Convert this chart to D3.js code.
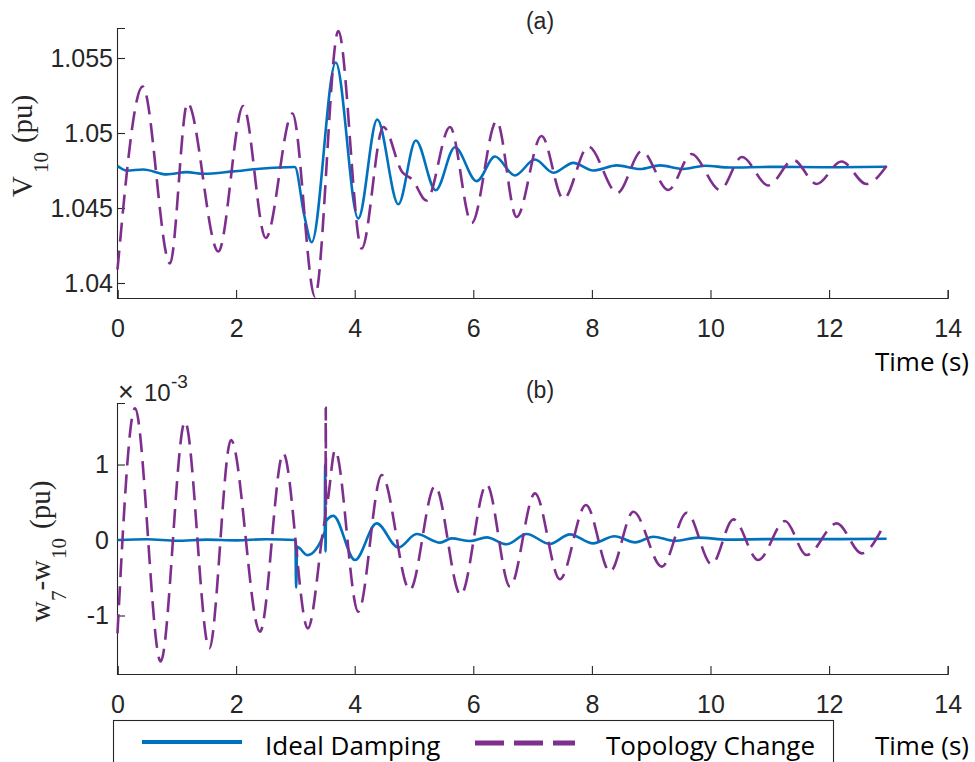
<!DOCTYPE html>
<html>
<head>
<meta charset="utf-8">
<script src="https://cdn.jsdelivr.net/npm/d3@7"></script>
<style>
  html, body { margin: 0; padding: 0; background: #fff; }
  svg { display: block; }
</style>
</head>
<body>
<svg id="chart" width="975" height="762"></svg>
<script>
// ---- data -------------------------------------------------------------
const timeTicks = [0, 2, 4, 6, 8, 10, 12, 14];
const voltTicks = [1.04, 1.045, 1.05, 1.055];
const voltTickLabels = ["1.04", "1.045", "1.05", "1.055"];
const speedTicks = [-1, 0, 1];
const speedTickLabels = ["-1", "0", "1"];
const seriesNames = ["Ideal Damping", "Topology Change"];

// (a) bus-10 voltage, pu  [time s, value]
const v10Ideal = [
  [0, 1.0478], [0.155, 1.0475], [0.435, 1.04757], [0.83, 1.04724], [1.167, 1.04739],
  [1.447, 1.04728], [1.953, 1.04744], [2.40, 1.04762], [2.99, 1.04773], [3.15, 1.0445],
  [3.275, 1.04272], [3.68, 1.0547], [4.06, 1.0443], [4.38, 1.0509], [4.736, 1.04525],
  [5.03, 1.0495], [5.366, 1.04618], [5.69, 1.04905], [6.057, 1.04679], [6.366, 1.04843],
  [6.70, 1.04717], [7.04, 1.04823], [7.35, 1.04735], [7.686, 1.04801], [8.02, 1.0475],
  [8.42, 1.04784], [8.81, 1.0476], [9.15, 1.04784], [9.54, 1.0476], [9.91, 1.04782],
  [10.33, 1.0477], [11.0, 1.04774], [12.0, 1.04772], [12.97, 1.04775]
];
const v10Topology = [
  [0, 1.0409], [0.425, 1.0531], [0.885, 1.0413], [1.18, 1.0520], [1.70, 1.0421],
  [2.12, 1.0518], [2.50, 1.0430], [2.95, 1.0513], [3.33, 1.0391], [3.724, 1.0568],
  [4.118, 1.0423], [4.483, 1.0504], [4.80, 1.0474], [4.97, 1.0469], [5.21, 1.0455],
  [5.607, 1.0504], [5.973, 1.0440], [6.394, 1.0508], [6.73, 1.0444], [7.15, 1.0498],
  [7.52, 1.0456], [7.94, 1.0491], [8.43, 1.0460], [8.84, 1.0488], [9.29, 1.0462],
  [9.68, 1.0486], [10.16, 1.0462], [10.53, 1.0484], [10.975, 1.0465], [11.40, 1.0482],
  [11.79, 1.0466], [12.21, 1.0481], [12.63, 1.0466], [12.97, 1.0478]
];

// (b) speed difference w7 - w10, in units of 1e-3 pu  [time s, value]
const wIdeal = [
  [0, 0], [0.5, 0.01], [1.0, -0.01], [1.5, 0.005], [2.0, -0.005], [2.5, 0.01],
  [3.0, 0], [3.012, -0.63], [3.03, -0.09], [3.2, -0.2], [3.495, 0.11], [3.502, 1.0],
  [3.508, -0.15], [3.515, 0.25], [3.64, 0.32], [4.005, -0.265], [4.37, 0.22],
  [4.735, -0.10], [5.045, 0.079], [5.44, -0.035], [5.635, 0.022], [5.944, -0.013],
  [6.226, 0.035], [6.56, -0.057], [6.90, 0.079], [7.29, -0.053], [7.63, 0.075],
  [8.02, -0.044], [8.38, 0.05], [8.73, -0.031], [9.035, 0.044], [9.40, -0.013],
  [9.79, 0.031], [10.3, 0.005], [11.0, 0.012], [12.0, 0.012], [12.97, 0.017]
];
const wTopology = [
  [0, -1.236], [0.295, 1.744], [0.728, -1.61], [1.138, 1.567], [1.548, -1.435],
  [1.914, 1.325], [2.403, -1.214], [2.796, 1.148], [3.21, -1.17], [3.47, 0.15],
  [3.508, 0.35], [3.512, 1.75], [3.516, 0.45], [3.668, 1.19], [4.06, -0.95],
  [4.455, 0.861], [4.93, -0.662], [5.354, 0.715], [5.787, -0.728], [6.225, 0.737],
  [6.62, -0.618], [7.04, 0.618], [7.46, -0.52], [7.90, 0.464], [8.305, -0.42],
  [8.70, 0.375], [9.18, -0.353], [9.60, 0.362], [10.02, -0.322], [10.385, 0.274],
  [10.806, -0.265], [11.257, 0.252], [11.62, -0.199], [12.13, 0.221], [12.55, -0.177],
  [12.91, 0.177]
];

// ---- styling ----------------------------------------------------------
const axisColor = "#262626";
const blue = "#0072BD";
const purple = "#7E2F8E";
const tickFont = "'Liberation Sans', Arial, sans-serif";
const serif = "'Liberation Serif', 'Times New Roman', serif";
const uiFont = "'Open Sans', 'Noto Sans', sans-serif";

const svg = d3.select("#chart");

const x = d3.scaleLinear().domain([0, 14]).range([117.5, 947.7]);

function drawPanel(cfg) {
  const y = d3.scaleLinear().domain(cfg.yDomain).range([cfg.bottom, cfg.top]);
  const g = svg.append("g");

  const line = d3.line()
    .x(d => x(d[0]))
    .y(d => y(d[1]))
    .curve(d3.curveMonotoneX);

  // x axis, ticks pointing inward
  const xa = g.append("g")
    .attr("transform", `translate(0,${cfg.bottom})`)
    .call(d3.axisBottom(x).tickValues(timeTicks).tickSize(-8).tickPadding(21)
      .tickFormat(d3.format("d")));
  // y axis, ticks pointing inward
  const ya = g.append("g")
    .attr("transform", `translate(${x(0) - 0.5},0)`)
    .call(d3.axisLeft(y).tickValues(cfg.yTicks).tickSize(-8).tickPadding(cfg.yPad)
      .tickFormat((d, i) => cfg.yLabels[i]));

  [xa, ya].forEach(a => {
    a.attr("font-family", null).attr("font-size", null);
    a.select(".domain").attr("stroke", axisColor).attr("stroke-width", 1.1);
    a.selectAll(".tick line").attr("stroke", axisColor).attr("stroke-width", 1.1);
    a.selectAll(".tick text")
      .attr("fill", axisColor)
      .style("font-family", tickFont)
      .style("font-size", "25px");
  });

  g.append("path")
    .datum(cfg.ideal)
    .attr("fill", "none")
    .attr("stroke", blue)
    .attr("stroke-width", 2.6)
    .attr("stroke-linejoin", "round")
    .attr("d", line);

  g.append("path")
    .datum(cfg.topology)
    .attr("fill", "none")
    .attr("stroke", purple)
    .attr("stroke-width", 2.6)
    .attr("stroke-dasharray", "19,9")
    .attr("d", line);

  // panel tag
  g.append("text")
    .attr("x", 540).attr("y", cfg.tagY)
    .attr("text-anchor", "middle")
    .attr("fill", axisColor)
    .style("font-family", tickFont)
    .style("font-size", "23px")
    .text(cfg.tag);

  // x axis title
  g.append("text")
    .attr("x", 969).attr("y", cfg.timeY)
    .attr("text-anchor", "end")
    .attr("fill", "#000")
    .style("font-family", uiFont)
    .style("font-size", "26px")
    .text("Time (s)");

  return { g, y };
}

// (a) voltage
drawPanel({
  yDomain: [1.039, 1.057], top: 28, bottom: 298,
  yTicks: voltTicks, yLabels: voltTickLabels, yPad: 4,
  ideal: v10Ideal, topology: v10Topology,
  tag: "(a)", tagY: 29, timeY: 371
});

// (b) speed difference
drawPanel({
  yDomain: [-1.775, 1.815], top: 403, bottom: 674,
  yTicks: speedTicks, yLabels: speedTickLabels, yPad: 8,
  ideal: wIdeal, topology: wTopology,
  tag: "(b)", tagY: 398, timeY: 755
});

// y axis titles (serif, with subscripts)
const yTitleA = svg.append("text")
  .attr("transform", "translate(32,197) rotate(-90)")
  .attr("fill", axisColor)
  .style("font-family", serif)
  .style("font-size", "29px");
yTitleA.append("tspan").text("V");
yTitleA.append("tspan").attr("dx", 3).attr("dy", 16).style("font-size", "21px").text("10");
yTitleA.append("tspan").attr("dx", 9).attr("dy", -16).text("(pu)");

const yTitleB = svg.append("text")
  .attr("transform", "translate(50,622) rotate(-90)")
  .attr("fill", axisColor)
  .style("font-family", serif)
  .style("font-size", "29px");
yTitleB.append("tspan").text("w");
yTitleB.append("tspan").attr("dx", 0).attr("dy", 16).style("font-size", "21px").text("7");
yTitleB.append("tspan").attr("dx", 0).attr("dy", -16).text("-w");
yTitleB.append("tspan").attr("dx", 1).attr("dy", 16).style("font-size", "21px").text("10");
yTitleB.append("tspan").attr("dx", 9).attr("dy", -16).text("(pu)");

// exponent marker above panel (b)
const expo = svg.append("text")
  .attr("y", 401)
  .attr("fill", axisColor)
  .style("font-family", tickFont)
  .style("font-size", "24px");
expo.append("tspan").attr("x", 118).style("font-size", "27px").text("\u00d7");
expo.append("tspan").attr("x", 144).text("10");
expo.append("tspan").attr("x", 171).attr("dy", -13).style("font-size", "19px").text("-3");

// legend
const legend = svg.append("g");
legend.append("rect")
  .attr("x", 113.5).attr("y", 720.5)
  .attr("width", 720).attr("height", 70)
  .attr("fill", "#fff")
  .attr("stroke", axisColor)
  .attr("stroke-width", 1.1);
legend.append("line")
  .attr("x1", 142).attr("x2", 242).attr("y1", 742).attr("y2", 742)
  .attr("stroke", blue).attr("stroke-width", 3.8);
legend.append("text")
  .attr("x", 265).attr("y", 755)
  .attr("fill", "#000")
  .style("font-family", uiFont).style("font-size", "26px")
  .text(seriesNames[0]);
legend.append("line")
  .attr("x1", 475).attr("x2", 575).attr("y1", 743).attr("y2", 743)
  .attr("stroke", purple).attr("stroke-width", 5)
  .attr("stroke-dasharray", "29,10");
legend.append("text")
  .attr("x", 606).attr("y", 755)
  .attr("fill", "#000")
  .style("font-family", uiFont).style("font-size", "26px")
  .text(seriesNames[1]);
</script>
</body>
</html>
